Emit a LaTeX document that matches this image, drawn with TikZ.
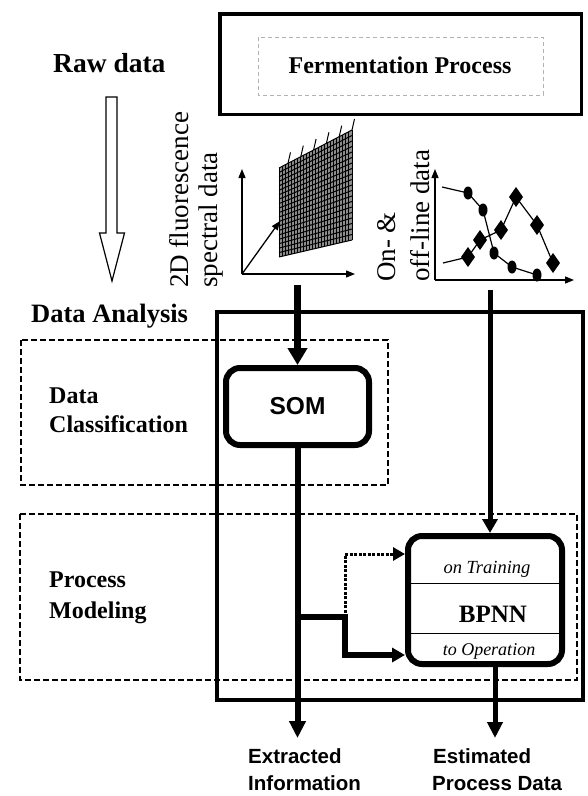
\documentclass[tikz,border=0pt]{standalone}
\usepackage{fontspec}
\setmainfont{Liberation Serif}
\newfontfamily\arialfont{Liberation Sans}
\usetikzlibrary{arrows.meta,calc}
\begin{document}
\begin{tikzpicture}[x=1pt,y=-1pt,
  title/.style={font=\fontsize{27.5}{30}\selectfont\bfseries, inner sep=0pt, anchor=base west},
  sublabel/.style={font=\fontsize{24}{28}\selectfont\bfseries, inner sep=0pt, anchor=base west},
  vlabel/.style={font=\fontsize{27}{30}\selectfont, inner sep=0pt, rotate=90, anchor=base west},
  outlabel/.style={font=\arialfont\fontsize{20.5}{24}\selectfont\bfseries, inner sep=0pt, anchor=base west},
  dashbox/.style={line width=1.4pt, dash pattern=on 6pt off 3pt},
  axis/.style={line width=1.3pt, -{Triangle[length=9pt,width=7pt]}},
  nnbox/.style={draw, line width=6pt, rounded corners=14pt, inner sep=0pt, outer sep=3pt},
  inlabel/.style={inner sep=0pt, anchor=base},
]
\fill[white] (0,0) rectangle (587,796);
\useasboundingbox (0,0) rectangle (587,796);

% left titles and hollow arrow
\node[title] (raw) at (53,72) {Raw data};
\draw[line width=1.2pt, fill=white] (106,97) -- (117,97) -- (117,233) -- (124.5,233) -- (112,281) -- (99.5,233) -- (106,233) -- cycle;
\node[title, font=\fontsize{26.5}{30}\selectfont\bfseries] (da) at (31,322) {Data Analysis};

% fermentation process
\draw[line width=3.5pt] (219.75,13.75) rectangle (581.25,114.25);
\draw[gray!60, line width=0.6pt, dash pattern=on 4pt off 3pt] (258,37) rectangle (543,95);
\node[inlabel, font=\fontsize{24}{26}\selectfont\bfseries] (ferm) at (400,73) {Fermentation Process};

% rotated labels
\node[vlabel] (fl1) at (188,288) {2D fluorescence};
\node[vlabel] (fl2) at (217,288) {spectral data};
\node[vlabel] (ol1) at (395,282) {On- \&};
\node[vlabel] (ol2) at (429,282) {off-line data};

% spectral plot
\coordinate (so) at (242,274);
\draw[axis] (so) -- (242,169);
\draw[axis] (so) -- (355,274);
\draw[axis] (so) -- (280,221);
\fill[black!45] (279,257) -- (352,240) -- (352,130) -- (279,168) -- cycle;
\begin{scope}[line width=1pt]
\foreach \i in {0,...,24} { \draw ({279+\i*73/24},{257-\i*17/24}) -- ({279+\i*73/24},{168-\i*38/24}); }
\foreach \j in {0,...,20} { \draw (279,{257-\j*89/20}) -- (352,{240-\j*110/20}); }
\foreach \k in {0,...,5} { \draw ({288+\k*12.8},{168-(9+\k*12.8)*38/73}) -- ++(2.5,-11); }
\end{scope}

% on/off-line plot
\coordinate (oo) at (435,280);
\draw[axis] (oo) -- (435,169);
\draw[axis] (oo) -- (574,280);
\draw[line width=1.2pt] (442,187) -- (468,193) -- (483,210) -- (494,253) -- (512,267) -- (537,275);
\foreach \p in {(468,193),(483,210),(494,253),(512,267),(537,275)} { \fill \p ellipse [x radius=4.5pt, y radius=6.5pt]; }
\draw[line width=1.2pt] (443,263) -- (468,257) -- (480,240) -- (501,230) -- (516,197) -- (537,225) -- (553,263);
\foreach \p in {(468,257),(480,240),(501,230),(516,197),(537,225),(553,263)} { \fill \p +(0,-10) -- +(7,0) -- +(0,10) -- +(-7,0) -- cycle; }

% dashed sections and analysis box
\draw[dashbox] (21,340) rectangle (388,485);
\draw[dashbox] (20,514) rectangle (577,680);
\draw[line width=4pt] (217,312) rectangle (583,700);
\node[sublabel] (dc1) at (49,403) {Data};
\node[sublabel] (dc2) at (49,432) {Classification};
\node[sublabel] (pm1) at (49,587) {Process};
\node[sublabel] (pm2) at (49,618) {Modeling};

% SOM
\node[nnbox, font=\arialfont\fontsize{24.5}{28}\selectfont\bfseries, minimum width=143pt, minimum height=77pt] (som) at (297.5,406.5) {SOM};

% BPNN
\node[nnbox, minimum width=154pt, minimum height=128pt] (bpnn) at (485,600) {};
\draw[line width=0.9pt] (408,583) -- (562,583);
\draw[line width=0.9pt] (408,633) -- (562,633);
\node[inlabel, font=\fontsize{18.5}{22}\selectfont\itshape] (tr) at (487,573) {on Training};
\node[inlabel, font=\fontsize{25}{28}\selectfont\bfseries] (bp) at (493,622) {BPNN};
\node[inlabel, font=\fontsize{18}{22}\selectfont\itshape] (op) at (489,655) {to Operation};

% connectors
\coordinate (specout) at (297.5,285);
\draw[line width=7pt, -{Triangle[length=17pt,width=19pt]}] (specout) -- (som.north);
\coordinate (onoffout) at (490,290);
\draw[line width=5pt, -{Triangle[length=14pt,width=15pt]}] (onoffout) -- (onoffout |- bpnn.north);
\coordinate (extrtip) at (297.5,738);
\draw[line width=6pt, -{Triangle[length=17pt,width=16pt]}] (som.south) -- (extrtip);
\coordinate (j1) at (297.5,617);
\coordinate (jx) at (345,617);
\draw[line width=6pt, -{Triangle[length=13pt,width=14pt]}] (j1) -- (jx) |- (bpnn.west |- 0,655);
\draw[line width=3pt, dash pattern=on 3pt off 1.5pt, -{Triangle[length=12pt,width=13pt]}] (jx) |- (bpnn.west |- 0,554);
\coordinate (esttip) at (495,738);
\draw[line width=5pt, -{Triangle[length=16pt,width=15pt]}] (bpnn.south -| esttip) -- (esttip);

% outputs
\node[outlabel] (ex1) at (248,763) {Extracted};
\node[outlabel] (ex2) at (248,790) {Information};
\node[outlabel] (es1) at (433,763) {Estimated};
\node[outlabel] (es2) at (432,790) {Process Data};
\end{tikzpicture}
\end{document}
